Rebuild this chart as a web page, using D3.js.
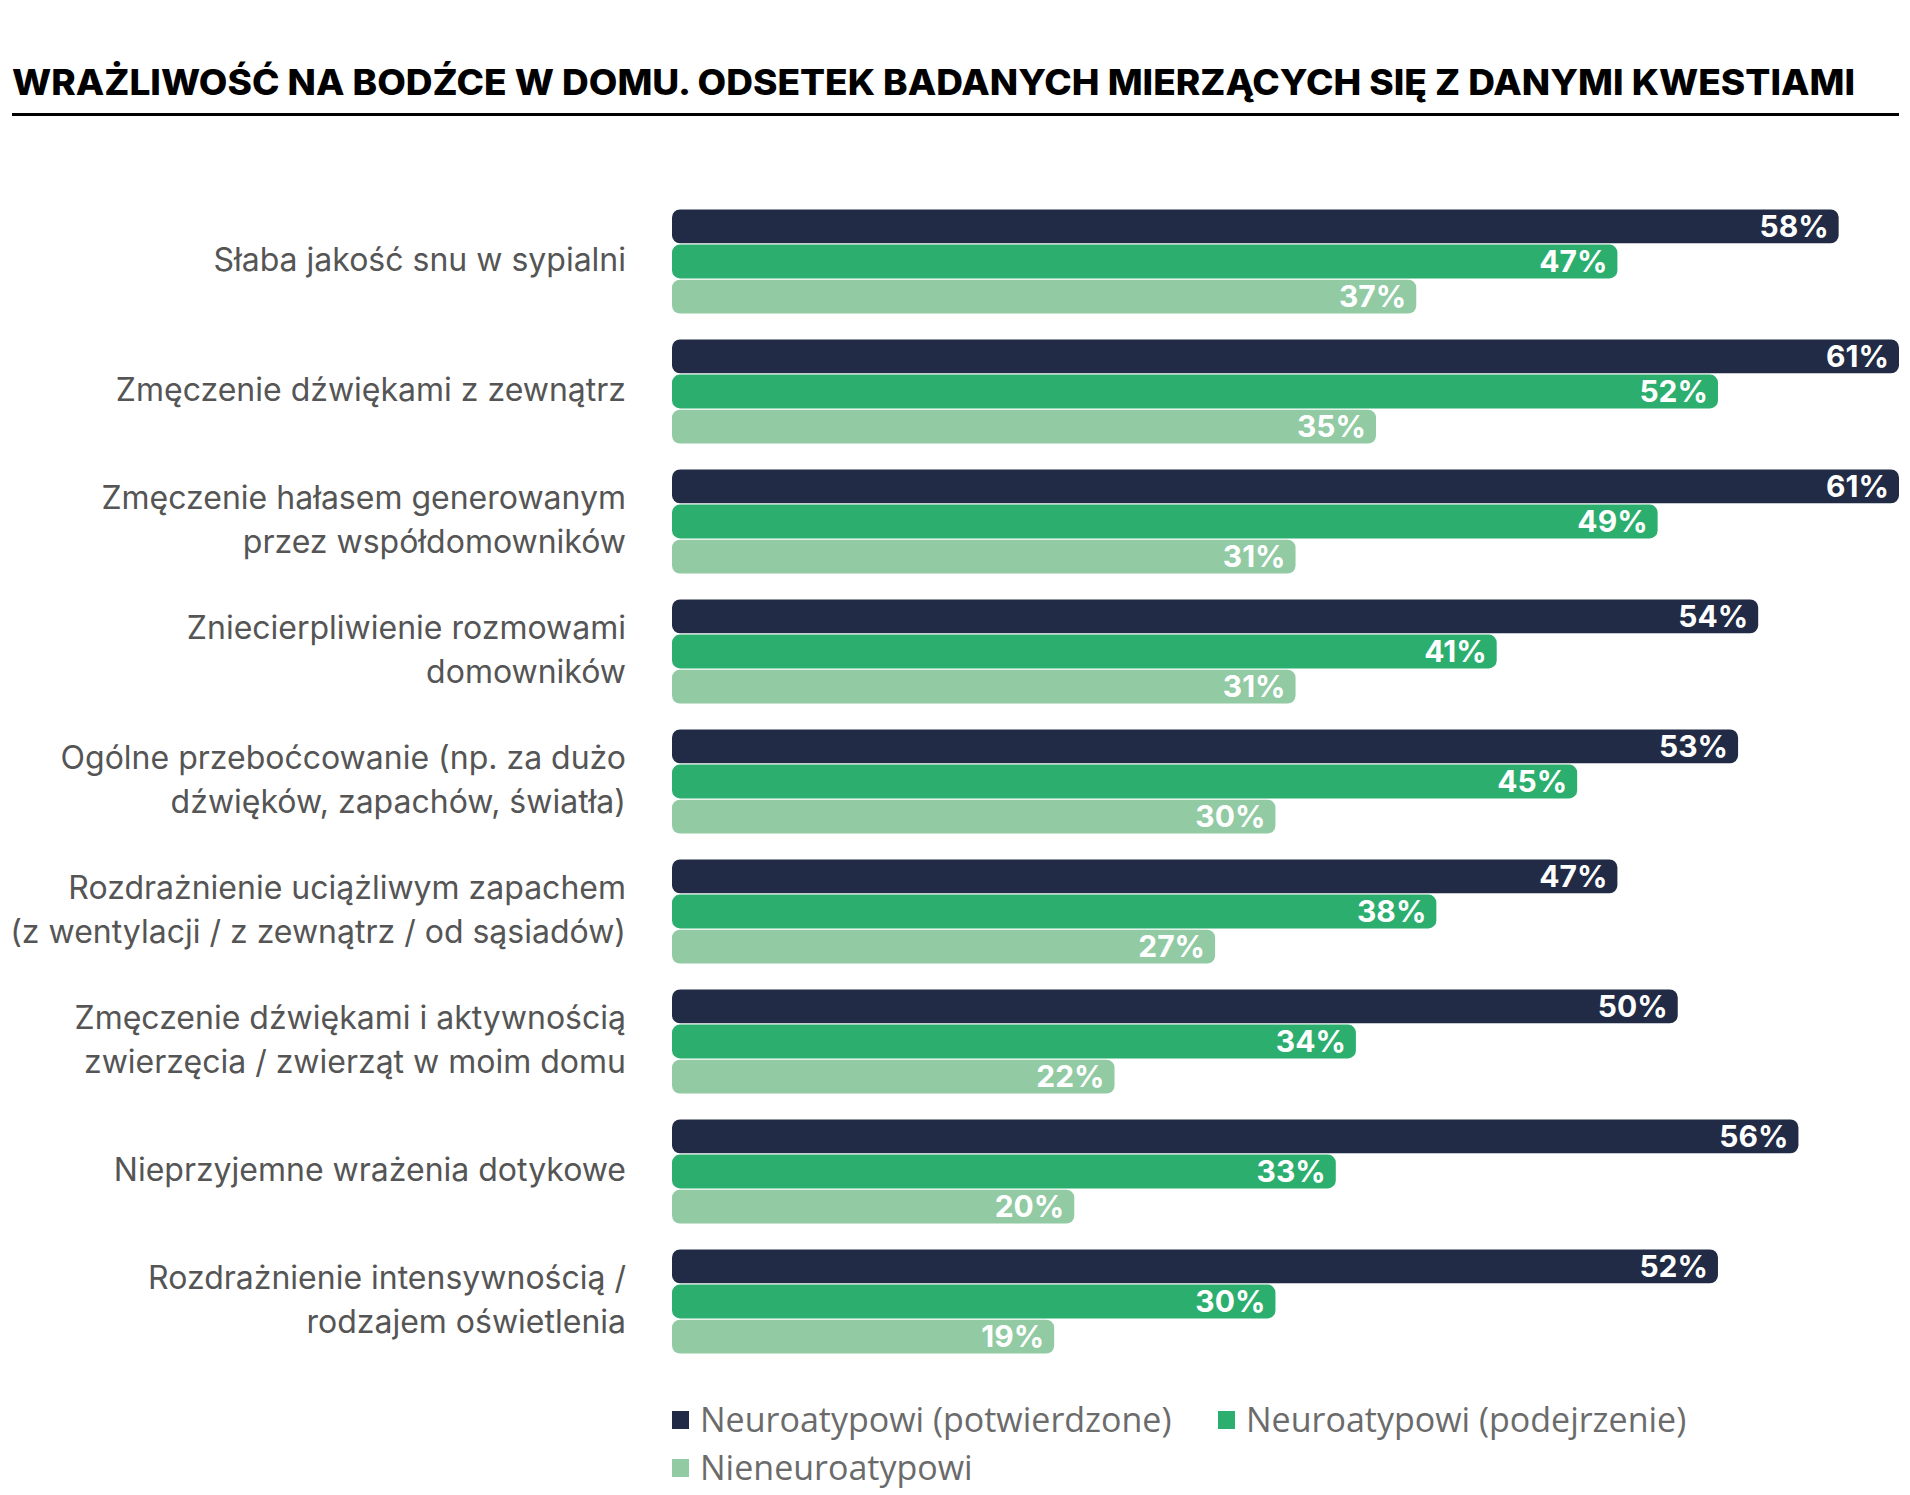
<!DOCTYPE html>
<html>
<head>
<meta charset="utf-8">
<script src="https://cdn.jsdelivr.net/npm/d3@7/dist/d3.min.js"></script>
<style>
  html, body { margin: 0; padding: 0; background: #fff; }
  svg { display: block; }
</style>
</head>
<body>
<svg id="chart" width="1910" height="1495"></svg>
<script>
const titleText = "WRAŻLIWOŚĆ NA BODŹCE W DOMU. ODSETEK BADANYCH MIERZĄCYCH SIĘ Z DANYMI KWESTIAMI";

const categories = [
  ["Słaba jakość snu w sypialni"],
  ["Zmęczenie dźwiękami z zewnątrz"],
  ["Zmęczenie hałasem generowanym", "przez współdomowników"],
  ["Zniecierpliwienie rozmowami", "domowników"],
  ["Ogólne przeboćcowanie (np. za dużo", "dźwięków, zapachów, światła)"],
  ["Rozdrażnienie uciążliwym zapachem", "(z wentylacji / z zewnątrz / od sąsiadów)"],
  ["Zmęczenie dźwiękami i aktywnością", "zwierzęcia / zwierząt w moim domu"],
  ["Nieprzyjemne wrażenia dotykowe"],
  ["Rozdrażnienie intensywnością /", "rodzajem oświetlenia"]
];

const seriesNames = ["Neuroatypowi (potwierdzone)", "Neuroatypowi (podejrzenie)", "Nieneuroatypowi"];
const seriesColors = ["#212B45", "#2CAE6F", "#91CAA3"];

const confirmedValues = [58, 61, 61, 54, 53, 47, 50, 56, 52];
const suspectedValues = [47, 52, 49, 41, 45, 38, 34, 33, 30];
const neurotypicalValues = [37, 35, 31, 31, 30, 27, 22, 20, 19];

const seriesValues = [confirmedValues, suspectedValues, neurotypicalValues];

const svg = d3.select("#chart");

// Title
svg.append("text")
  .attr("x", 12).attr("y", 95)
  .attr("font-family", "Inter, sans-serif")
  .attr("font-weight", 800)
  .attr("font-size", 35)
  .attr("fill", "#000")
  .attr("textLength", 1843)
  .attr("lengthAdjust", "spacingAndGlyphs")
  .text(titleText);

svg.append("line")
  .attr("x1", 12).attr("x2", 1899)
  .attr("y1", 114.5).attr("y2", 114.5)
  .attr("stroke", "#000").attr("stroke-width", 3);

// Scales
const catIdx = categories.map((d, i) => i);
const y = d3.scaleBand()
  .domain(catIdx)
  .range([209.5, 209.5 + 9 * 130 - 26])
  .paddingInner(0.2)
  .paddingOuter(0);

const ySub = d3.scaleBand()
  .domain([0, 1, 2])
  .range([0, y.bandwidth()])
  .paddingInner(0.035)
  .paddingOuter(0);

const x = d3.scaleLinear().domain([0, 61]).range([672, 1899]);

const groups = svg.append("g").selectAll("g.grp")
  .data(catIdx)
  .join("g")
  .attr("class", "grp")
  .attr("transform", i => `translate(0,${y(i)})`);

// Category labels
groups.append("text")
  .attr("text-anchor", "end")
  .attr("font-family", "Inter, sans-serif")
  .attr("font-size", 32)
  .attr("fill", "#555555")
  .each(function(i) {
    const lines = categories[i];
    const n = lines.length;
    const mid = y.bandwidth() / 2 - 2;
    const lh = 44;
    d3.select(this).selectAll("tspan")
      .data(lines)
      .join("tspan")
      .attr("x", 626)
      .attr("y", (l, k) => mid + (k - (n - 1) / 2) * lh)
      .attr("dy", "0.35em")
      .text(l => l);
  });

// Bars
groups.each(function(i) {
  const g = d3.select(this);
  seriesValues.forEach((vals, s) => {
    const v = vals[i];
    g.append("rect")
      .attr("x", x(0))
      .attr("y", ySub(s))
      .attr("width", x(v) - x(0))
      .attr("height", ySub.bandwidth())
      .attr("rx", 8).attr("ry", 8)
      .attr("fill", seriesColors[s]);
    g.append("text")
      .attr("x", x(v) - 10)
      .attr("y", ySub(s) + ySub.bandwidth() / 2)
      .attr("dy", "0.36em")
      .attr("text-anchor", "end")
      .attr("font-family", "Inter, sans-serif")
      .attr("font-weight", 700)
      .attr("font-size", 30)
      .attr("fill", "#ffffff")
      .text(v + "%");
  });
});

// Legend
const legendPos = [[672, 1420], [1218, 1420], [672, 1468]];
const legend = svg.append("g").selectAll("g.leg")
  .data(seriesNames)
  .join("g")
  .attr("class", "leg")
  .attr("transform", (d, i) => `translate(${legendPos[i][0]},${legendPos[i][1]})`);
legend.append("rect")
  .attr("x", 0).attr("y", -9).attr("width", 17).attr("height", 18)
  .attr("fill", (d, i) => seriesColors[i]);
legend.append("text")
  .attr("x", 28).attr("y", 0).attr("dy", "0.35em")
  .attr("font-family", "'Open Sans', sans-serif")
  .attr("font-size", 34)
  .attr("fill", "#6b6b6b")
  .text(d => d);
</script>
</body>
</html>
